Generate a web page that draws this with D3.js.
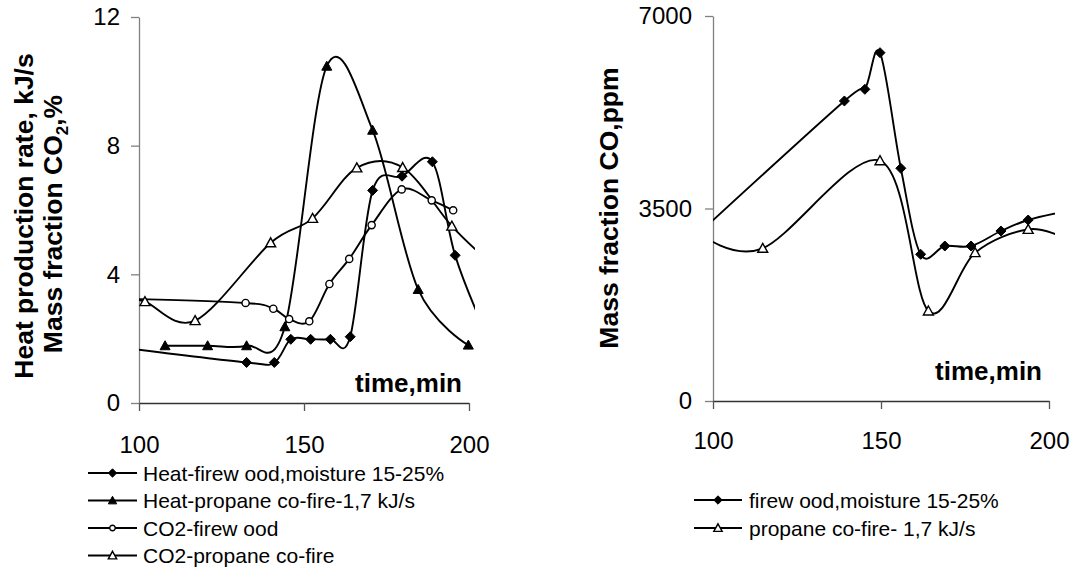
<!DOCTYPE html>
<html>
<head>
<meta charset="utf-8">
<script src="https://cdn.jsdelivr.net/npm/d3@7"></script>
<style>
    body { margin: 0; background: white; }
    svg { display: block; font-family: "Liberation Sans", Arial, sans-serif; }
</style>
</head>
<body>
<svg id="svg_chart" width="1072" height="568"></svg>
<script>
// ---- data (time in min) ----
// left chart: heat production rate kJ/s and CO2 %
let heatWoodT = [95, 132.6, 141, 146, 152, 158, 164, 170.8, 179.7, 188.9, 195.8, 205];
let heatWoodV = [1.72, 1.26, 1.26, 1.98, 1.98, 1.98, 2.06, 6.61, 7.05, 7.5, 4.59, 2.2];
let heatPropT = [107.9, 120.8, 132.6, 144.2, 156.9, 170.8, 184.6, 199.8];
let heatPropV = [1.78, 1.78, 1.78, 2.37, 10.47, 8.48, 3.53, 1.8];
let co2WoodT = [96, 132.3, 140.7, 145.5, 151.6, 157.7, 163.7, 170.5, 179.6, 188.7, 195.2];
let co2WoodV = [3.24, 3.11, 2.93, 2.61, 2.54, 3.7, 4.48, 5.53, 6.64, 6.3, 5.99];
let co2PropT = [96, 101.8, 117, 139.9, 152.6, 166, 179.9, 194.8, 206];
let co2PropV = [3.22, 3.15, 2.56, 4.98, 5.74, 7.31, 7.32, 5.5, 4.4];

// right chart: CO ppm
let coWoodT = [94, 139.1, 145.2, 149.7, 155.9, 161.8, 169, 176.8, 185.7, 193.8, 205];
let coWoodV = [2950, 5455, 5667, 6333, 4231, 2667, 2818, 2818, 3091, 3291, 3450];
let coPropT = [96, 114.8, 149.7, 164.1, 178, 193.8, 205];
let coPropV = [3050, 2776, 4369, 1636, 2697, 3121, 2950];

let xTicks = [100, 150, 200];
let leftYTicks = [0, 4, 8, 12];
let rightYTicks = [0, 3500, 7000];

let leftNames = ["Heat-firew ood,moisture 15-25%", "Heat-propane co-fire-1,7 kJ/s",
    "CO2-firew ood", "CO2-propane co-fire"];
let rightNames = ["firew ood,moisture 15-25%", "propane co-fire- 1,7 kJ/s"];

let svg = d3.select("#svg_chart");

// marker shapes (r ~ half width)
function markerPath(type, r) {
    if (type === "diamond") return `M0,${-r}L${r},0L0,${r}L${-r},0Z`;
    if (type === "triangle" || type === "otriangle")
        return `M0,${-r}L${r},${r * 0.8}L${-r},${r * 0.8}Z`;
    return d3.symbol().type(d3.symbolCircle).size(Math.PI * r * r)();
}

function drawMarker(g, type, x, y, r) {
    let open = (type === "circle" || type === "otriangle");
    g.append("path")
        .attr("d", markerPath(type, r))
        .attr("transform", `translate(${x},${y})`)
        .attr("fill", open ? "white" : "black")
        .attr("stroke", "black")
        .attr("stroke-width", open ? 1.4 : 1);
}

// one panel: axes, lines, markers
function panel(id, xRange, yRange, yMax, yTicks, series, padX, padY) {
    let x = d3.scaleLinear().domain([100, 200]).range(xRange);
    let y = d3.scaleLinear().domain([0, yMax]).range(yRange);

    let g = svg.append("g");

    // clip lines a little past the right end of the axis
    g.append("clipPath").attr("id", id)
        .append("rect")
        .attr("x", xRange[0]).attr("y", yRange[1] - 10)
        .attr("width", xRange[1] - xRange[0] + 6)
        .attr("height", yRange[0] - yRange[1] + 10);

    // y axis
    let yAxis = g.append("g")
        .attr("transform", `translate(${xRange[0]},0)`)
        .call(d3.axisLeft(y).tickValues(yTicks).tickFormat(d3.format("d"))
            .tickSize(8).tickPadding(padY).tickSizeOuter(0));
    yAxis.select(".domain").attr("stroke", "#808080").attr("stroke-width", 1.3);
    yAxis.selectAll(".tick line").attr("stroke", "#808080").attr("stroke-width", 1.3);
    yAxis.selectAll("text").attr("font-size", 24).attr("fill", "black")
        .attr("font-family", "Liberation Sans, Arial, sans-serif");

    // x axis
    let xAxis = g.append("g")
        .attr("transform", `translate(0,${yRange[0]})`)
        .call(d3.axisBottom(x).tickValues(xTicks).tickFormat(d3.format("d"))
            .tickSize(8).tickPadding(padX).tickSizeOuter(0));
    xAxis.select(".domain").attr("stroke", "#333").attr("stroke-width", 1.3);
    xAxis.selectAll(".tick line").attr("stroke", "#555").attr("stroke-width", 1.3);
    xAxis.selectAll("text").attr("font-size", 24).attr("fill", "black")
        .attr("font-family", "Liberation Sans, Arial, sans-serif");

    // smoothed lines like the spreadsheet ones
    let line = d3.line()
        .x(d => x(d[0]))
        .y(d => y(d[1]))
        .curve(d3.curveCardinal.tension(0));

    series.forEach(s => {
        let pts = s.t.map((t, i) => [t, s.v[i]]);
        g.append("path")
            .attr("clip-path", `url(#${id})`)
            .attr("d", line(pts))
            .attr("fill", "none")
            .attr("stroke", "black")
            .attr("stroke-width", 1.9);
    });

    // markers only for points inside the axis range
    series.forEach(s => {
        s.t.forEach((t, i) => {
            if (t < 100 || t > 200) return;
            drawMarker(g, s.marker, x(t), y(s.v[i]), s.marker === "circle" ? 3.6 : 5);
        });
    });

    return g;
}

let leftSeries = [
    { t: heatWoodT, v: heatWoodV, marker: "diamond" },
    { t: heatPropT, v: heatPropV, marker: "triangle" },
    { t: co2WoodT, v: co2WoodV, marker: "circle" },
    { t: co2PropT, v: co2PropV, marker: "otriangle" }
];
let rightSeries = [
    { t: coWoodT, v: coWoodV, marker: "diamond" },
    { t: coPropT, v: coPropV, marker: "otriangle" }
];

panel("clipL", [139, 469], [403, 17], 12, leftYTicks, leftSeries, 25, 11);
panel("clipR", [713, 1049], [401, 16], 7000, rightYTicks, rightSeries, 23, 13);

// axis titles
let title = (x, y, txt) => svg.append("text")
    .attr("transform", `translate(${x},${y}) rotate(-90)`)
    .attr("text-anchor", "middle")
    .attr("font-size", 26.5)
    .attr("font-weight", "bold")
    .text(txt);

title(33, 216, "Heat production rate, kJ/s");
let t2 = svg.append("text")
    .attr("transform", "translate(62,224) rotate(-90)")
    .attr("text-anchor", "middle")
    .attr("font-size", 26.5)
    .attr("font-weight", "bold");
t2.append("tspan").text("Mass fraction CO");
t2.append("tspan").attr("font-size", 17).attr("dy", 6).text("2");
t2.append("tspan").attr("dy", -6).text(",%");
title(618, 208, "Mass fraction CO,ppm");

svg.append("text").attr("x", 462).attr("y", 392)
    .attr("text-anchor", "end").attr("font-size", 26).attr("font-weight", "bold")
    .text("time,min");
svg.append("text").attr("x", 1042).attr("y", 380)
    .attr("text-anchor", "end").attr("font-size", 26).attr("font-weight", "bold")
    .text("time,min");

// legends
function legend(names, markers, x1, x2, textX, ys) {
    names.forEach((name, i) => {
        let g = svg.append("g");
        g.append("line")
            .attr("x1", x1).attr("x2", x2)
            .attr("y1", ys[i]).attr("y2", ys[i])
            .attr("stroke", "black").attr("stroke-width", 1.8);
        drawMarker(g, markers[i], (x1 + x2) / 2, ys[i], markers[i] === "circle" ? 2.8 : 4.2);
        g.append("text")
            .attr("x", textX).attr("y", ys[i] + 7.5)
            .attr("font-size", 21)
            .text(name);
    });
}

legend(leftNames, ["diamond", "triangle", "circle", "otriangle"], 88, 137, 143, [473, 500.5, 528, 555.5]);
legend(rightNames, ["diamond", "otriangle"], 694, 742, 749, [500, 528]);
</script>
</body>
</html>
